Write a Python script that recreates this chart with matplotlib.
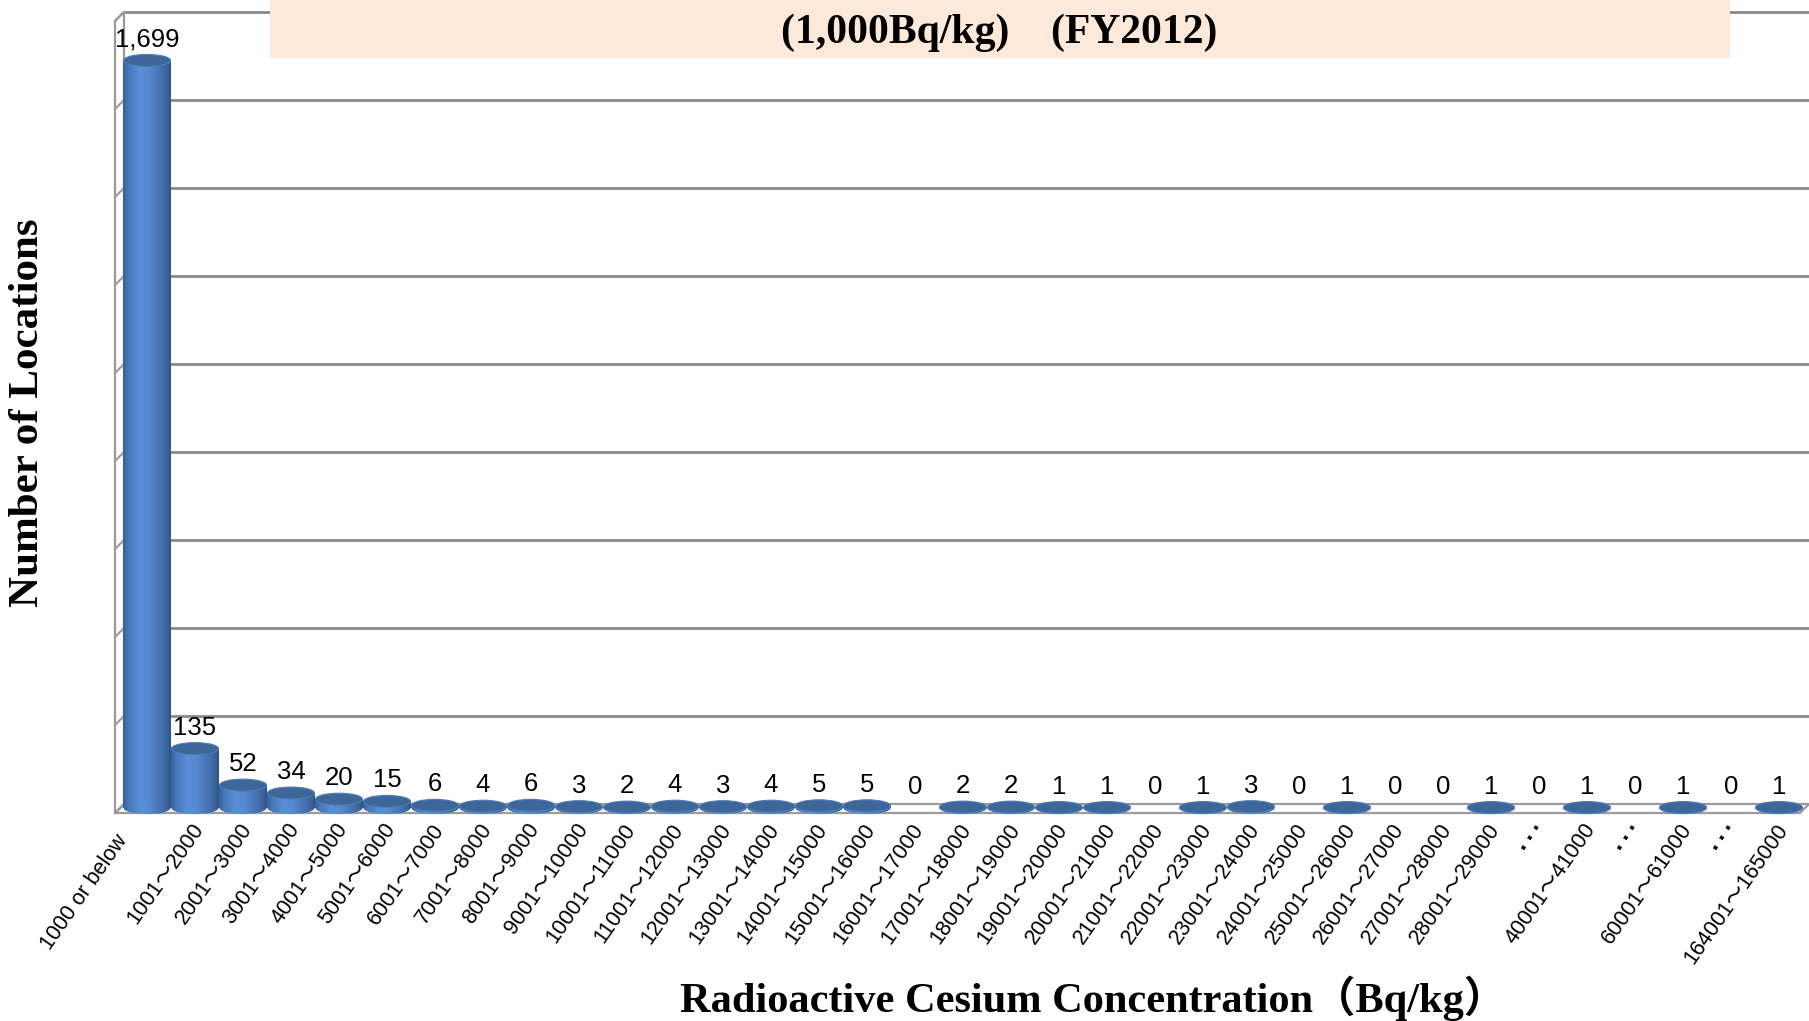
import numpy as np
import matplotlib
matplotlib.use("Agg")
import matplotlib.pyplot as plt
from matplotlib.patches import Rectangle, Ellipse, Polygon
from matplotlib.colors import LinearSegmentedColormap
from matplotlib.transforms import ScaledTranslation

# ---------------- data ----------------
categories = [
    "1000 or below", "1001～2000", "2001～3000", "3001～4000", "4001～5000",
    "5001～6000", "6001～7000", "7001～8000", "8001～9000", "9001～10000",
    "10001～11000", "11001～12000", "12001～13000", "13001～14000", "14001～15000",
    "15001～16000", "16001～17000", "17001～18000", "18001～19000", "19001～20000",
    "20001～21000", "21001～22000", "22001～23000", "23001～24000", "24001～25000",
    "25001～26000", "26001～27000", "27001～28000", "28001～29000", "…",
    "40001～41000", "…", "60001～61000", "…", "164001～165000",
]
counts = [1699, 135, 52, 34, 20, 15, 6, 4, 6, 3, 2, 4, 3, 4, 5, 5, 0, 2, 2, 1,
          1, 0, 1, 3, 0, 1, 0, 0, 1, 0, 1, 0, 1, 0, 1]
y_ticks = [0, 200, 400, 600, 800, 1000, 1200, 1400, 1600, 1800]
title_text = "(1,000Bq/kg)\u3000(FY2012)"
x_title = "Radioactive Cesium Concentration（Bq/kg）"
y_title = "Number of Locations"

# ---------------- figure ----------------
W, H, DPI = 1809, 1021, 100
fig = plt.figure(figsize=(W / DPI, H / DPI), dpi=DPI)
fig.patch.set_facecolor("white")

SANS = ["Liberation Sans", "Noto Sans CJK JP", "DejaVu Sans"]
SERIF = ["Liberation Serif", "Noto Sans CJK JP", "DejaVu Serif"]

# axes placement (pixels from top-left)
ax_left_px, ax_right_px = 124, 1809
y0_px, px_per_unit = 804.0, 0.44
ylo, yhi = -30, 1810
bot_px = y0_px - ylo * px_per_unit
top_px = y0_px - yhi * px_per_unit
ax = fig.add_axes([ax_left_px / W, (H - bot_px) / H,
                   (ax_right_px - ax_left_px) / W, (bot_px - top_px) / H])
ax.set_facecolor("none")
for s in ax.spines.values():
    s.set_visible(False)

xlo, xhi = -0.479, 34.625
px_per_x = (ax_right_px - ax_left_px) / (xhi - xlo)

# gridlines
ax.set_yticks(y_ticks)
ax.yaxis.set_ticklabels([])
ax.tick_params(axis="y", length=0)
ax.set_axisbelow(True)
ax.grid(axis="y", color="#8a8a8a", lw=2.0)

# 3D wall / floor frame (depth offset 9px left, 9px down)
GRAY = "#9a9a9a"
ddx = 9 / px_per_x
ddy = 9 / px_per_unit
floor = Polygon([(xlo, 0), (xhi, 0), (xhi - ddx, -ddy), (xlo - ddx, -ddy)],
                closed=True, facecolor="white", edgecolor=GRAY, lw=1.6,
                zorder=1, clip_on=False)
ax.add_patch(floor)
wall = Polygon([(xlo, 0), (xlo, y_ticks[-1]), (xlo - ddx, y_ticks[-1] - ddy),
                (xlo - ddx, -ddy)], closed=True, facecolor="white",
               edgecolor=GRAY, lw=1.6, zorder=1, clip_on=False)
ax.add_patch(wall)
for yt in y_ticks:
    ax.plot([xlo - ddx, xlo], [yt - ddy, yt], color=GRAY, lw=1.6,
            zorder=1.1, clip_on=False)

# ---------------- cylinders ----------------
DEPTH = 4 / px_per_unit          # bars sit at mid-depth of the floor
EH = 12 / px_per_unit            # ellipse height in data units
xs = np.arange(len(categories))
bars = ax.bar(xs, counts, width=0.98, bottom=-DEPTH, color="none",
              edgecolor="none", zorder=2)

cmap = LinearSegmentedColormap.from_list("cyl", [
    (0.00, "#34609A"), (0.10, "#4576B8"), (0.35, "#5A90D8"),
    (0.55, "#5488CF"), (0.80, "#4471AF"), (0.93, "#3A6398"), (1.00, "#2D5284")])
grad = np.linspace(0, 1, 256).reshape(1, -1)

for r, v in zip(bars.patches, counts):
    xl, w = r.get_x(), r.get_width()
    yb, yt = r.get_y(), r.get_y() + r.get_height()
    xc = xl + w / 2
    if v > 0:
        body = Rectangle((xl, yb), w, yt - yb, transform=ax.transData)
        im = ax.imshow(grad, extent=(xl, xl + w, yb - EH / 2, yt), aspect="auto",
                       cmap=cmap, interpolation="bilinear", zorder=3)
        im.set_clip_path(body)
        base = Ellipse((xc, yb), w, EH, transform=ax.transData)
        im2 = ax.imshow(grad, extent=(xl, xl + w, yb - EH / 2, yb + EH / 2),
                        aspect="auto", cmap=cmap, interpolation="bilinear", zorder=3)
        im2.set_clip_path(base)
        ax.add_patch(Ellipse((xc, yt), w, EH, facecolor="#3D6699",
                             edgecolor="#4F7DB8", lw=0.8, zorder=4, clip_on=False))
    ax.annotate(f"{v:,}", xy=(xc, yt), xytext=(0, 14), textcoords="offset pixels",
                ha="center", va="baseline", fontsize=18.5, family=SANS,
                color="black", zorder=6, annotation_clip=False)

ax.set_xlim(xlo, xhi)
ax.set_ylim(ylo, yhi)

# ---------------- category labels ----------------
ax.set_xticks(xs)
ax.set_xticklabels(categories, rotation=55, ha="right", va="top",
                   rotation_mode="anchor", fontsize=15.5, family=SANS)
ax.tick_params(axis="x", length=0, pad=1.8)
for i, lab in enumerate(ax.get_xticklabels()):
    if lab.get_text() == "…":
        lab.set_ha("center")
        lab.set_va("baseline")
        lab.set_rotation(58)
        lab.set_fontsize(27)
        lab.set_transform(lab.get_transform() +
                          ScaledTranslation(-9 / DPI, -14 / DPI, fig.dpi_scale_trans))
    elif i == 0:
        lab.set_transform(lab.get_transform() +
                          ScaledTranslation(-32 / DPI, -11 / DPI, fig.dpi_scale_trans))
    else:
        lab.set_transform(lab.get_transform() +
                          ScaledTranslation(-4 / DPI, 0, fig.dpi_scale_trans))

# ---------------- axis titles ----------------
ax.set_xlabel(x_title, fontsize=30.5, fontweight="bold", family=SERIF,
              va="baseline", ha="center")
ax.xaxis.set_label_coords((1093 - ax_left_px) / (ax_right_px - ax_left_px),
                          (bot_px - 1012) / (bot_px - top_px))
ax.set_ylabel(y_title, fontsize=31, fontweight="bold", family=SERIF,
              va="center", ha="center")
ax.yaxis.set_label_coords((28 - ax_left_px) / (ax_right_px - ax_left_px),
                          (bot_px - 413) / (bot_px - top_px))

# ---------------- title box ----------------
fig.add_artist(Rectangle((270 / W, 1 - 58 / H), (1730 - 270) / W, 58 / H,
                         transform=fig.transFigure, facecolor="#FCE9DA",
                         edgecolor="none", zorder=5))
fig.text(999 / W, 1 - 43 / H, title_text, ha="center", va="baseline",
         fontsize=30, fontweight="bold", family=SERIF, zorder=6)

fig.savefig("out.png", dpi=DPI)
